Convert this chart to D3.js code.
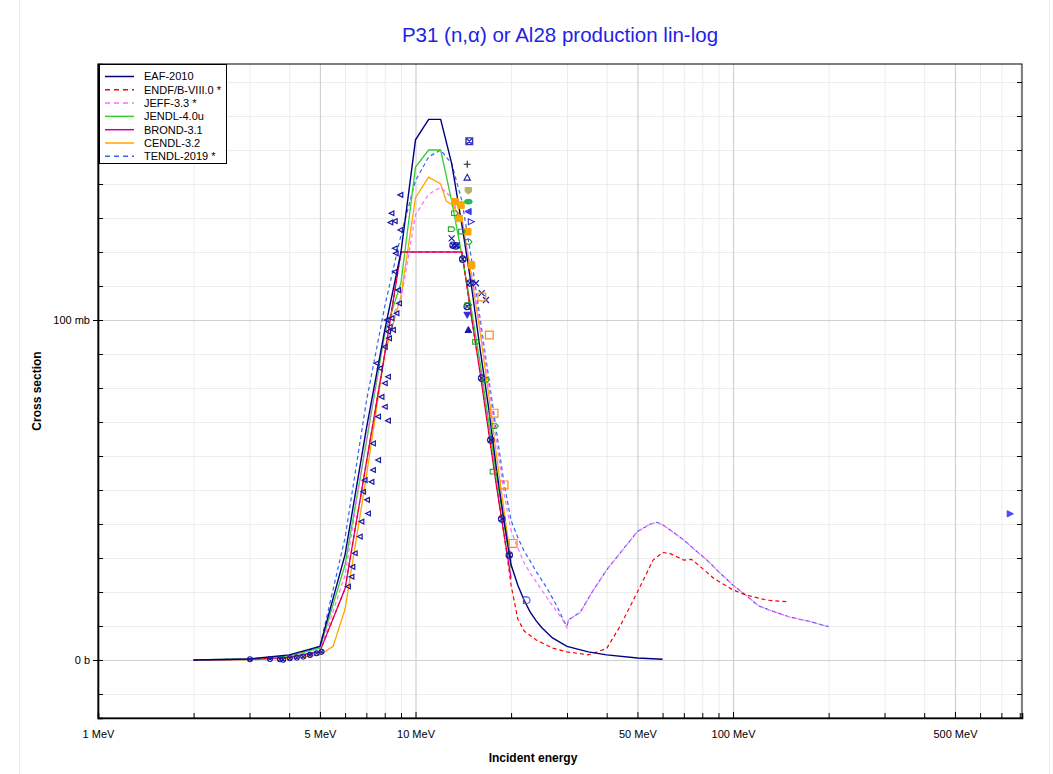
<!DOCTYPE html>
<html><head><meta charset="utf-8">
<script src="https://cdn.jsdelivr.net/npm/d3@7"></script>
<style>body{margin:0;background:#fff} text{font-family:"Liberation Sans",Arial,sans-serif}</style>
</head><body><svg id="c" width="1053" height="774"></svg>
<script>
// ---------------- DATA ----------------
const chartTitle = "P31 (n,\u03b1) or Al28 production lin-log";
const xTickValues = [1,5,10,50,100,500];
const xTickLabels = ["1 MeV","5 MeV","10 MeV","50 MeV","100 MeV","500 MeV"];
const yTickValues = [0,100];
const yTickLabels = ["0 b","100 mb"];
const xDomain = [1, 813];
const yDomain = [-17.06, 175.3];

const libNames = ["EAF-2010","ENDF/B-VIII.0 *","JEFF-3.3 *","JENDL-4.0u","BROND-3.1","CENDL-3.2","TENDL-2019 *"];

const eafE = [2,3,4,5,6,7,8,9,10,11,12,13,14,15,16,17,18,19,20,21,22,23,24,25,27,30,35,40,50,60];
const eafV = [0,0.3,1.5,4,31,68,97,120,153,159,159,146,128,110,91,74,56,41,28,22,17.5,14,11.5,9.5,6.5,4,2.4,1.5,0.6,0.2];

const endfE = [2,3,4,5,6,7,8,9,10,11,12,13,14,15,16,17,18,19,20,21,22,24,27,30,35,40,44,50,56,60,63,70,74,79,87,100,110,128,150];
const endfV = [0,0.2,0.8,2.5,21,58,90,120,120,120,120,120,120,101,84,67,51,37,22,12,8.5,5.9,3.5,2.4,1.5,3.4,9.8,20,29.4,31.6,31.4,29.4,29.6,27.4,24,20.6,19.1,17.6,17.1];

const jeffE = [2,3,4,5,6,7,8,9,10,11,12,13,14,15,16,17,18,19,20,21,22,23,24,25,27,28,29,30,30.3,33,36,40,45,50,55,57.5,60,65,70,76,83,90,100,110,120,130,150,175,200];
const jeffV = [0,0.2,0.8,2.5,25,65,97,106,131,137,139,136,128,114,98,81,64,49,38,33,28.5,25.5,23,20.5,16,14,12,9.5,11.8,14,20,26.5,32.5,37.8,40,40.5,39.8,37.5,35.3,32.3,29.3,26,22,19,16,14.7,12.7,11.3,9.8];

const jendlE = [2,3,4,5,6,7,8,9,10,11,12,13,14,15,16,17,18,19,20];
const jendlV = [0,0.3,1.2,3.5,28,64,96,111,145,150,150,135,119,103,87,70,54,40,27];

const brondE = [2,3,4,5,6,7,8,9,10,11,12,13,14,15,16,17,18,19,20];
const brondV = [0,0.2,0.8,2.5,21,58,90,120,120,120,120,120,120,101,84,67,51,37,24];

const cendlE = [2,3,4,5,5.5,6,7,8,9,10,11,12,12.5,13,14,15,16,17,18,19,20];
const cendlV = [0,0.1,0.5,1.5,4,15,54,90,107,136,142,140,135,134,130,113,96,78,60,44,29];

const tendlE = [2,3,4,5,6,7,8,9,10,11,12,13,14,15,16,17,18,19,20,21,22,23,24,26,28,29.5,30,30.3,33,36,40,45,50,55,57.5,60,65,70,76,83,90,100,110,120,130,150,175,200];
const tendlV = [0,0.3,1,4,36,76,104,125,141,148,150,146,135,118,100,83,67,52,41,36,32,29,26,21,15.5,11,10,11.8,14,20,26.5,32.5,37.8,40,40.5,39.8,37.5,35.3,32.3,29.3,26,22,19,16,14.7,12.7,11.3,9.8];

// experimental points [E (MeV), sigma (mb)]
const expLeftTri = [[8.98,136.8],[8.42,131.4],[8.62,129.1],[8.35,128.7],[8.98,126.5],[8.62,121.1],[8.68,119.6],[8.62,114.2],[8.83,108.8],[8.89,104.9],[8.73,102],[8.12,100],[8.42,100.5],[8.31,98],[8.21,96.6],[8.51,97.1],[8.27,94.6],[8.02,92.1],[7.55,87.3],[7.73,85.8],[8.21,83.3],[8.02,81.4],[7.83,77.4],[8.02,74.5],[7.64,71.6],[8.21,70.4],[7.36,63.7],[7.64,58.8],[7.36,55.9],[7.28,52.4],[6.93,52.9],[6.85,49.5],[7.05,47.1],[7.10,43.1],[6.77,40.7],[6.69,36.3],[6.45,31.4],[6.34,27.4],[6.14,21.6],[6.30,24.5]];
const expLowE = [[3.01,0.2],[3.48,0.3],[3.74,0.2],[3.83,0.1],[4.02,0.5],[4.23,0.7],[4.43,1.0],[4.65,1.5],[4.88,2.0],[5.06,2.4]];
const expNavyCircles = [[13.13,122],[13.4,121.8],[14.08,117.9],[14.85,110.9],[14.55,104],[16.16,82.9],[17.26,64.7],[18.69,41.5],[19.74,30.9]];
const expNavyCrosses = [[13.0,124],[13.5,122],[15.5,110.8],[16.16,107.9],[16.67,105.9]];
const expOrangeOpen = [[16.17,106.8],[17.08,95.6],[17.67,72.6],[19.0,51.5],[20.3,34.3]];
const expOrangeFilled = [[13.3,134.8],[13.9,133.8],[13.7,129.9],[14.6,126],[15.0,116.2]];
const expGreenOpen = [[13.3,131.4],[13.0,126.7],[14.0,126],[14.7,123],[14.67,104.4],[15.5,93.6],[16.7,82.4],[17.8,68.8],[17.6,55.4]];
const expNavyFilledUp = [[14.67,97.1]];
const expNavyFilledDown = [[14.55,101.5]];
const expBoxX = [[14.77,152.6]];
const expPlus = [[14.55,145.8]];
const expOpenTriUp = [[14.55,141.9]];
const expKhaki = [[14.67,138]];
const expGreenFilled = [[14.67,134.8]];
const expBlueFilledLeft = [[14.67,131.9]];
const expNavyOpenRight = [[14.95,128.9]];
const expBlueFilledRight = [[745,43]];
const expBlueD = [[22.4,17.6]];

// ---------------- CHART ----------------
const svg = d3.select("#c");
const M = {left:98, right:1022, top:64, bottom:718};
const x = d3.scaleLog().domain(xDomain).range([M.left, M.right]);
const y = d3.scaleLinear().domain(yDomain).range([M.bottom, M.top]);

svg.append("rect").attr("x",19.5).attr("y",-2).attr("width",1030).attr("height",780)
  .attr("fill","none").attr("stroke","#ececec");

const xMinor = [];
for (let p=0;p<3;p++) for (let m=1;m<10;m++){ const v=m*Math.pow(10,p); if(v>=xDomain[0]&&v<=xDomain[1]&&!xTickValues.includes(v)) xMinor.push(v); }
const yMinor = d3.range(-10,171,10).filter(v=>!yTickValues.includes(v));

const grid = svg.append("g");
grid.append("g").attr("transform",`translate(0,${M.bottom})`)
  .call(d3.axisBottom(x).tickValues(xMinor).tickSize(-(M.bottom-M.top)).tickFormat(""))
  .call(g=>{g.select(".domain").remove(); g.selectAll("line").attr("stroke","#ececec");});
grid.append("g").attr("transform",`translate(${M.left},0)`)
  .call(d3.axisLeft(y).tickValues(yMinor).tickSize(-(M.right-M.left)).tickFormat(""))
  .call(g=>{g.select(".domain").remove(); g.selectAll("line").attr("stroke","#ececec");});
grid.append("g").attr("transform",`translate(0,${M.bottom})`)
  .call(d3.axisBottom(x).tickValues(xTickValues).tickSize(-(M.bottom-M.top)).tickFormat(""))
  .call(g=>{g.select(".domain").remove(); g.selectAll("line").attr("stroke","#d0d0d0").attr("stroke-width",1.2);});
grid.append("g").attr("transform",`translate(${M.left},0)`)
  .call(d3.axisLeft(y).tickValues(yTickValues).tickSize(-(M.right-M.left)).tickFormat(""))
  .call(g=>{g.select(".domain").remove(); g.selectAll("line").attr("stroke","#d0d0d0").attr("stroke-width",1.2);});

const libs = [
  {name:libNames[0], E:eafE, V:eafV, color:"#000080", dash:null, w:1.4},
  {name:libNames[1], E:endfE, V:endfV, color:"#ff0000", dash:"4,3", w:1.2},
  {name:libNames[2], E:jeffE, V:jeffV, color:"#ff6cff", dash:"4,3", w:1.2},
  {name:libNames[3], E:jendlE, V:jendlV, color:"#33cc33", dash:null, w:1.3},
  {name:libNames[4], E:brondE, V:brondV, color:"#cc0099", dash:null, w:1.3},
  {name:libNames[5], E:cendlE, V:cendlV, color:"#ffa500", dash:null, w:1.3},
  {name:libNames[6], E:tendlE, V:tendlV, color:"#3366ee", dash:"4,3", w:1.2}
];
const line = d3.line().x(d=>x(d[0])).y(d=>y(d[1]));
const curves = svg.append("g");
[6,5,4,3,2,1,0].forEach(i=>{
  const L = libs[i];
  const pts = L.E.map((e,k)=>[e,L.V[k]]);
  curves.append("path").attr("d",line(pts)).attr("fill","none")
    .attr("stroke",L.color).attr("stroke-width",L.w)
    .attr("stroke-dasharray",L.dash).attr("stroke-dashoffset", i===6?3.5:0);
});

const mk = svg.append("g");
const shapes = {
  triLeft: s=>`M${-s},0L${s*0.8},${-s*0.9}L${s*0.8},${s*0.9}Z`,
  triRight: s=>`M${s},0L${-s*0.8},${-s*0.9}L${-s*0.8},${s*0.9}Z`,
  triUp: s=>`M0,${-s}L${s},${s*0.8}L${-s},${s*0.8}Z`,
  triDown: s=>`M0,${s}L${s},${-s*0.8}L${-s},${-s*0.8}Z`,
  square: s=>`M${-s},${-s}H${s}V${s}H${-s}Z`,
  circle: s=>`M${-s},0A${s},${s} 0 1,0 ${s},0A${s},${s} 0 1,0 ${-s},0Z`,
  cross: s=>`M${-s},${-s}L${s},${s}M${-s},${s}L${s},${-s}`,
  plus: s=>`M${-s},0H${s}M0,${-s}V${s}`,
  boxX: s=>`M${-s},${-s}H${s}V${s}H${-s}ZM${-s},${-s}L${s},${s}M${-s},${s}L${s},${-s}`,
  circleX: s=>`M${-s},0A${s},${s} 0 1,0 ${s},0A${s},${s} 0 1,0 ${-s},0ZM${-s*0.7},${-s*0.7}L${s*0.7},${s*0.7}M${-s*0.7},${s*0.7}L${s*0.7},${-s*0.7}`,
  shield: s=>`M${-s},${-s}H${s}V${s*0.3}L0,${s}L${-s},${s*0.3}Z`,
  pent: s=>`M${-s},${-s*0.7}H${s*0.4}L${s},0L${s*0.4},${s*0.7}H${-s}Z`,
  ellipse: s=>`M${-s*1.3},0A${s*1.3},${s*0.8} 0 1,0 ${s*1.3},0A${s*1.3},${s*0.8} 0 1,0 ${-s*1.3},0Z`,
  dee: s=>`M${-s},${-s}H0A${s},${s} 0 0,1 0,${s}H${-s}Z`
};
function plot(data, shape, size, stroke, fill, sw){
  mk.append("g").selectAll("path").data(data).join("path")
    .attr("transform",d=>`translate(${x(d[0])},${y(d[1])})`)
    .attr("d",shapes[shape](size))
    .attr("fill",fill||"none").attr("stroke",stroke).attr("stroke-width",sw||1);
}
plot(expLowE,"circleX",2.5,"#1a1aa6",null,1.1);
plot(expLeftTri,"triLeft",2.6,"#1a1aa6",null,1.2);
plot(expNavyCircles,"circleX",3.2,"#1a1aa6",null,1.2);
plot(expNavyCrosses,"cross",3,"#1a1aa6",null,1.2);
plot(expOrangeFilled,"square",3.3,"#ffa500","#ffa500",1);
plot(expGreenOpen,"pent",3.3,"#22aa22",null,1.1);
plot(expOrangeOpen,"square",3.9,"#ff8c1a",null,1.2);
plot(expNavyFilledUp,"triUp",3.3,"#1a1aa6","#1a1aa6",1);
plot(expNavyFilledDown,"triDown",3.3,"#3030cc","#3030cc",1);
plot(expBoxX,"boxX",3.3,"#3333bb",null,1.4);
plot(expPlus,"plus",3.5,"#222222",null,1.1);
plot(expOpenTriUp,"triUp",3.2,"#1a1aa6",null,1.1);
plot(expKhaki,"shield",3.2,"#b8b06a","#b8b06a",1);
plot(expGreenFilled,"ellipse",3,"#22bb55","#22bb55",1);
plot(expBlueFilledLeft,"triLeft",3.5,"#3d3dff","#3d3dff",1);
plot(expNavyOpenRight,"triRight",3.3,"#3030cc",null,1.1);
plot(expBlueFilledRight,"triRight",3.5,"#4a4aff","#4a4aff",1);
plot(expBlueD,"dee",3.3,"#4a4aff",null,1.1);

svg.append("rect").attr("x",M.left).attr("y",M.top).attr("width",M.right-M.left).attr("height",M.bottom-M.top)
  .attr("fill","none").attr("stroke","#000").attr("stroke-width",1);
const ax = svg.append("g");
ax.append("g").attr("transform",`translate(0,${M.bottom})`)
  .call(d3.axisBottom(x).tickValues(xMinor).tickSize(-5).tickFormat(""))
  .call(g=>{g.select(".domain").attr("stroke-width",1.6);});
ax.append("g").attr("transform",`translate(0,${M.bottom})`)
  .call(d3.axisBottom(x).tickValues(xTickValues).tickSize(-6).tickPadding(12)
        .tickFormat((d,i)=>xTickLabels[i]))
  .call(g=>{g.select(".domain").remove(); g.selectAll("text").attr("font-size",11).attr("fill","#000");});
ax.append("g").attr("transform",`translate(${M.left},0)`)
  .call(d3.axisLeft(y).tickValues(yMinor).tickSize(-5).tickFormat(""))
  .call(g=>{g.select(".domain").attr("stroke-width",1.6);});
ax.append("g").attr("transform",`translate(${M.left},0)`)
  .call(d3.axisLeft(y).tickValues(yTickValues).tickSizeInner(5).tickSizeOuter(0).tickPadding(3)
        .tickFormat((d,i)=>yTickLabels[i]))
  .call(g=>{g.select(".domain").remove();
            g.selectAll("line").attr("x2",-5).attr("x1",5);
            g.selectAll("text").attr("font-size",11).attr("fill","#000");});
ax.append("g").attr("transform",`translate(${M.right},0)`)
  .call(d3.axisRight(y).tickValues(yMinor.concat(yTickValues)).tickSize(-5).tickFormat(""))
  .call(g=>{g.select(".domain").remove();});

svg.append("text").attr("x",(M.left+M.right)/2).attr("y",42).attr("text-anchor","middle")
  .attr("font-size",20.5).attr("fill","#1f1fe6").text(chartTitle);
svg.append("text").attr("x",533).attr("y",762).attr("text-anchor","middle")
  .attr("font-size",12).attr("font-weight","bold").text("Incident energy");
svg.append("text").attr("transform","translate(41,391) rotate(-90)").attr("text-anchor","middle")
  .attr("font-size",12).attr("font-weight","bold").text("Cross section");

const lg = svg.append("g");
lg.append("rect").attr("x",M.left+1.5).attr("y",M.top+0.5).attr("width",127).attr("height",99)
  .attr("fill","#fff").attr("stroke","#000").attr("stroke-width",1);
libs.forEach((L,i)=>{
  const yy = 76.5 + i*13.3;
  lg.append("line").attr("x1",105).attr("x2",134).attr("y1",yy).attr("y2",yy)
    .attr("stroke",L.color).attr("stroke-width",1.5).attr("stroke-dasharray",L.dash?"5,4":null);
  lg.append("text").attr("x",144).attr("y",yy+3.9).attr("font-size",11).text(L.name);
});
</script></body></html>
